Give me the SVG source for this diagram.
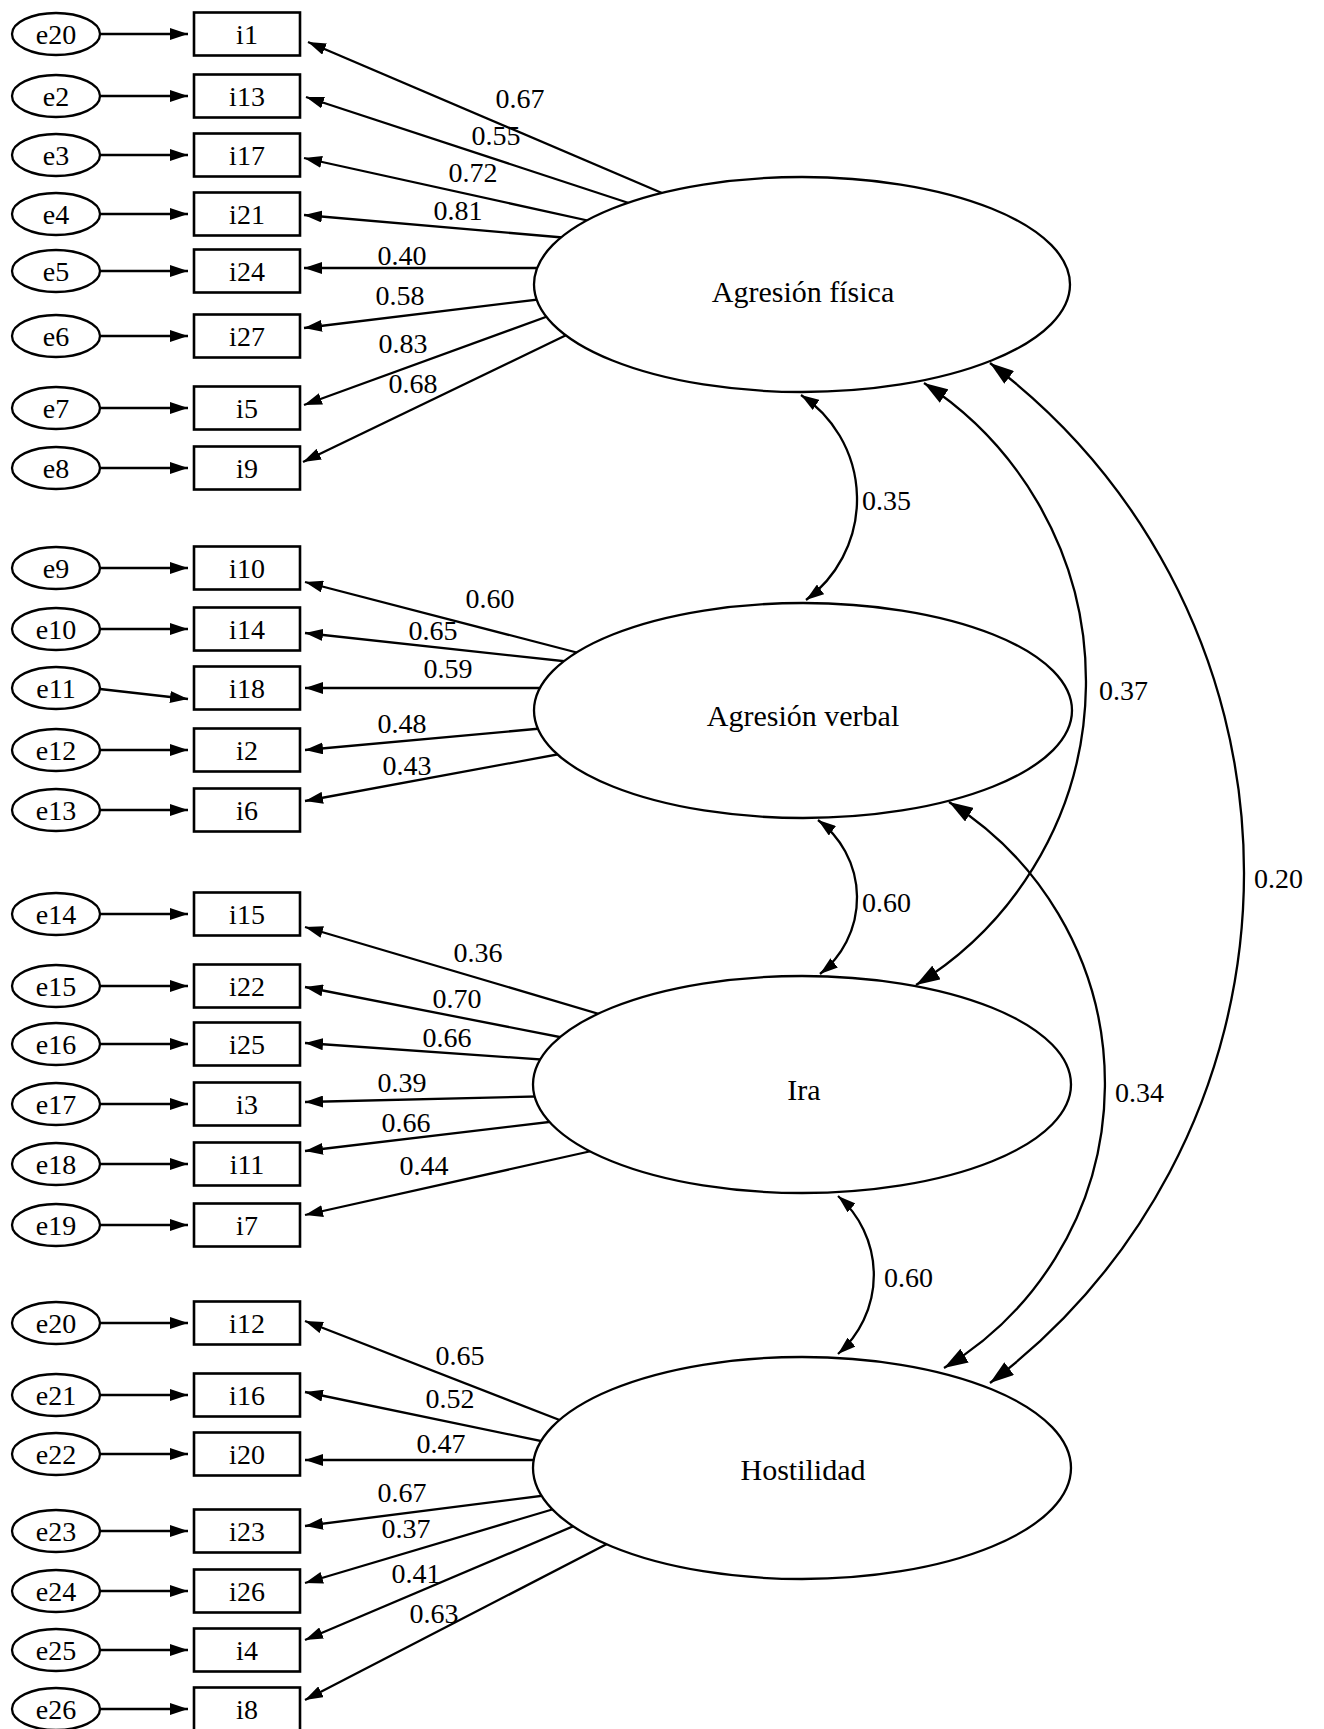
<svg xmlns="http://www.w3.org/2000/svg" width="1324" height="1729" viewBox="0 0 1324 1729">
<style>
.t{font-family:"Liberation Serif","Times New Roman",serif;font-size:28px;fill:#000}
.m{text-anchor:middle}
.big{font-size:30px}
.e{fill:#fff;stroke:#000;stroke-width:2.3}
.b{fill:#fff;stroke:#000;stroke-width:2.6}
.l{fill:none;stroke:#000;stroke-width:2.3}
.ld{marker-end:url(#ah)}
.cv{marker-start:url(#ac);marker-end:url(#ac)}
.cb{marker-start:url(#ab);marker-end:url(#ab)}
</style>
<defs>
<marker id="ah" viewBox="0 0 18 12" refX="18" refY="6" markerWidth="18" markerHeight="12" markerUnits="userSpaceOnUse" orient="auto-start-reverse"><path d="M0,0 L18,6 L0,12 z" fill="#000"/></marker>
<marker id="ac" viewBox="0 0 18 12" refX="18" refY="6" markerWidth="18" markerHeight="12" markerUnits="userSpaceOnUse" orient="auto-start-reverse"><path d="M0,0 L18,6 L0,12 z" fill="#000"/></marker>
<marker id="ab" viewBox="0 0 24 16" refX="24" refY="8" markerWidth="24" markerHeight="16" markerUnits="userSpaceOnUse" orient="auto-start-reverse"><path d="M0,0 L24,8 L0,16 z" fill="#000"/></marker>
</defs>
<rect width="1324" height="1729" fill="#fff"/>

<g id="connectors">
<g class="l ld">
<path d="M100 34H188"/><path d="M100 96H188"/><path d="M100 155H188"/><path d="M100 214H188"/>
<path d="M100 271H188"/><path d="M100 336H188"/><path d="M100 408H188"/><path d="M100 468H188"/>
<path d="M100 568H188"/><path d="M100 629H188"/><path d="M100 689L188 699"/><path d="M100 750H188"/><path d="M100 810H188"/>
<path d="M100 914H188"/><path d="M100 986H188"/><path d="M100 1044H188"/><path d="M100 1104H188"/><path d="M100 1164H188"/><path d="M100 1225H188"/>
<path d="M100 1323H188"/><path d="M100 1395H188"/><path d="M100 1454H188"/><path d="M100 1531H188"/><path d="M100 1591H188"/><path d="M100 1650H188"/><path d="M100 1709H188"/>
</g>
<g class="l ld">
<path d="M683 202L308 42"/><path d="M650 210L306 97"/><path d="M608 225L304 158"/><path d="M580 239L304 215"/>
<path d="M560 268L304 268"/><path d="M559 297L304 328"/><path d="M565 310L304 405"/><path d="M583 327L303 462"/>
<path d="M594 657L305 582"/><path d="M581 663L305 633"/><path d="M560 688L305 688"/><path d="M557 727L305 750"/><path d="M576 751L305 801"/>
<path d="M616 1019L305 927"/><path d="M575 1040L305 987"/><path d="M562 1061L305 1043"/><path d="M558 1096L305 1102"/><path d="M566 1120L305 1151"/><path d="M605 1148L305 1215"/>
<path d="M575 1426L305 1321"/><path d="M560 1445L305 1392"/><path d="M560 1460L305 1460"/><path d="M564 1493L305 1526"/><path d="M574 1503L305 1583"/><path d="M595 1517L305 1640"/><path d="M632 1531L305 1700"/>
</g>
<path class="l cv" d="M801 395A125 125 0 0 1 806 600"/>
<path class="l cv" d="M818 820A97 97 0 0 1 820 974"/>
<path class="l cv" d="M838 1196A105 105 0 0 1 838 1354"/>
<path class="l cb" d="M924 383A356 356 0 0 1 916 985"/>
<path class="l cb" d="M949 802A332 332 0 0 1 944 1368"/>
<path class="l cb" d="M990 363A639 639 0 0 1 990 1383"/>
</g>

<g id="loading-labels" class="t m">
<text x="520" y="108">0.67</text><text x="496" y="145">0.55</text><text x="473" y="182">0.72</text><text x="458" y="220">0.81</text>
<text x="402" y="265">0.40</text><text x="400" y="305">0.58</text><text x="403" y="353">0.83</text><text x="413" y="393">0.68</text>
<text x="490" y="608">0.60</text><text x="433" y="640">0.65</text><text x="448" y="678">0.59</text><text x="402" y="733">0.48</text><text x="407" y="775">0.43</text>
<text x="478" y="962">0.36</text><text x="457" y="1008">0.70</text><text x="447" y="1047">0.66</text><text x="402" y="1092">0.39</text><text x="406" y="1132">0.66</text><text x="424" y="1175">0.44</text>
<text x="460" y="1365">0.65</text><text x="450" y="1408">0.52</text><text x="441" y="1453">0.47</text><text x="402" y="1502">0.67</text><text x="406" y="1538">0.37</text><text x="416" y="1583">0.41</text><text x="434" y="1623">0.63</text>
</g>
<g id="covariance-labels" class="t">
<text x="862" y="510">0.35</text>
<text x="862" y="912">0.60</text>
<text x="884" y="1287">0.60</text>
<text x="1099" y="700">0.37</text>
<text x="1115" y="1102">0.34</text>
<text x="1254" y="888">0.20</text>
</g>

<g id="latent-agresion-fisica"><ellipse class="e" cx="802" cy="284.5" rx="268" ry="107.5"/><text class="t m big" x="803" y="302">Agresión física</text></g>
<g id="latent-agresion-verbal"><ellipse class="e" cx="803" cy="710.5" rx="269" ry="107.5"/><text class="t m big" x="803" y="726">Agresión verbal</text></g>
<g id="latent-ira"><ellipse class="e" cx="802" cy="1084.5" rx="269" ry="108.5"/><text class="t m big" x="804" y="1100">Ira</text></g>
<g id="latent-hostilidad"><ellipse class="e" cx="802" cy="1468" rx="269" ry="111"/><text class="t m big" x="803" y="1480">Hostilidad</text></g>

<g id="err-e20a"><ellipse class="e" cx="56" cy="34" rx="44" ry="21"/><text class="t m" x="56" y="44">e20</text></g>
<g id="err-e2"><ellipse class="e" cx="56" cy="96" rx="44" ry="21"/><text class="t m" x="56" y="106">e2</text></g>
<g id="err-e3"><ellipse class="e" cx="56" cy="155" rx="44" ry="21"/><text class="t m" x="56" y="165">e3</text></g>
<g id="err-e4"><ellipse class="e" cx="56" cy="214" rx="44" ry="21"/><text class="t m" x="56" y="224">e4</text></g>
<g id="err-e5"><ellipse class="e" cx="56" cy="271" rx="44" ry="21"/><text class="t m" x="56" y="281">e5</text></g>
<g id="err-e6"><ellipse class="e" cx="56" cy="336" rx="44" ry="21"/><text class="t m" x="56" y="346">e6</text></g>
<g id="err-e7"><ellipse class="e" cx="56" cy="408" rx="44" ry="21"/><text class="t m" x="56" y="418">e7</text></g>
<g id="err-e8"><ellipse class="e" cx="56" cy="468" rx="44" ry="21"/><text class="t m" x="56" y="478">e8</text></g>
<g id="err-e9"><ellipse class="e" cx="56" cy="568" rx="44" ry="21"/><text class="t m" x="56" y="578">e9</text></g>
<g id="err-e10"><ellipse class="e" cx="56" cy="629" rx="44" ry="21"/><text class="t m" x="56" y="639">e10</text></g>
<g id="err-e11"><ellipse class="e" cx="56" cy="688" rx="44" ry="21"/><text class="t m" x="56" y="698">e11</text></g>
<g id="err-e12"><ellipse class="e" cx="56" cy="750" rx="44" ry="21"/><text class="t m" x="56" y="760">e12</text></g>
<g id="err-e13"><ellipse class="e" cx="56" cy="810" rx="44" ry="21"/><text class="t m" x="56" y="820">e13</text></g>
<g id="err-e14"><ellipse class="e" cx="56" cy="914" rx="44" ry="21"/><text class="t m" x="56" y="924">e14</text></g>
<g id="err-e15"><ellipse class="e" cx="56" cy="986" rx="44" ry="21"/><text class="t m" x="56" y="996">e15</text></g>
<g id="err-e16"><ellipse class="e" cx="56" cy="1044" rx="44" ry="21"/><text class="t m" x="56" y="1054">e16</text></g>
<g id="err-e17"><ellipse class="e" cx="56" cy="1104" rx="44" ry="21"/><text class="t m" x="56" y="1114">e17</text></g>
<g id="err-e18"><ellipse class="e" cx="56" cy="1164" rx="44" ry="21"/><text class="t m" x="56" y="1174">e18</text></g>
<g id="err-e19"><ellipse class="e" cx="56" cy="1225" rx="44" ry="21"/><text class="t m" x="56" y="1235">e19</text></g>
<g id="err-e20b"><ellipse class="e" cx="56" cy="1323" rx="44" ry="21"/><text class="t m" x="56" y="1333">e20</text></g>
<g id="err-e21"><ellipse class="e" cx="56" cy="1395" rx="44" ry="21"/><text class="t m" x="56" y="1405">e21</text></g>
<g id="err-e22"><ellipse class="e" cx="56" cy="1454" rx="44" ry="21"/><text class="t m" x="56" y="1464">e22</text></g>
<g id="err-e23"><ellipse class="e" cx="56" cy="1531" rx="44" ry="21"/><text class="t m" x="56" y="1541">e23</text></g>
<g id="err-e24"><ellipse class="e" cx="56" cy="1591" rx="44" ry="21"/><text class="t m" x="56" y="1601">e24</text></g>
<g id="err-e25"><ellipse class="e" cx="56" cy="1650" rx="44" ry="21"/><text class="t m" x="56" y="1660">e25</text></g>
<g id="err-e26"><ellipse class="e" cx="56" cy="1709" rx="44" ry="21"/><text class="t m" x="56" y="1719">e26</text></g>

<g id="item-i1"><rect class="b" x="194" y="12.5" width="106" height="43"/><text class="t m" x="247" y="44">i1</text></g>
<g id="item-i13"><rect class="b" x="194" y="74.5" width="106" height="43"/><text class="t m" x="247" y="106">i13</text></g>
<g id="item-i17"><rect class="b" x="194" y="133.5" width="106" height="43"/><text class="t m" x="247" y="165">i17</text></g>
<g id="item-i21"><rect class="b" x="194" y="192.5" width="106" height="43"/><text class="t m" x="247" y="224">i21</text></g>
<g id="item-i24"><rect class="b" x="194" y="249.5" width="106" height="43"/><text class="t m" x="247" y="281">i24</text></g>
<g id="item-i27"><rect class="b" x="194" y="314.5" width="106" height="43"/><text class="t m" x="247" y="346">i27</text></g>
<g id="item-i5"><rect class="b" x="194" y="386.5" width="106" height="43"/><text class="t m" x="247" y="418">i5</text></g>
<g id="item-i9"><rect class="b" x="194" y="446.5" width="106" height="43"/><text class="t m" x="247" y="478">i9</text></g>
<g id="item-i10"><rect class="b" x="194" y="546.5" width="106" height="43"/><text class="t m" x="247" y="578">i10</text></g>
<g id="item-i14"><rect class="b" x="194" y="607.5" width="106" height="43"/><text class="t m" x="247" y="639">i14</text></g>
<g id="item-i18"><rect class="b" x="194" y="666.5" width="106" height="43"/><text class="t m" x="247" y="698">i18</text></g>
<g id="item-i2"><rect class="b" x="194" y="728.5" width="106" height="43"/><text class="t m" x="247" y="760">i2</text></g>
<g id="item-i6"><rect class="b" x="194" y="788.5" width="106" height="43"/><text class="t m" x="247" y="820">i6</text></g>
<g id="item-i15"><rect class="b" x="194" y="892.5" width="106" height="43"/><text class="t m" x="247" y="924">i15</text></g>
<g id="item-i22"><rect class="b" x="194" y="964.5" width="106" height="43"/><text class="t m" x="247" y="996">i22</text></g>
<g id="item-i25"><rect class="b" x="194" y="1022.5" width="106" height="43"/><text class="t m" x="247" y="1054">i25</text></g>
<g id="item-i3"><rect class="b" x="194" y="1082.5" width="106" height="43"/><text class="t m" x="247" y="1114">i3</text></g>
<g id="item-i11"><rect class="b" x="194" y="1142.5" width="106" height="43"/><text class="t m" x="247" y="1174">i11</text></g>
<g id="item-i7"><rect class="b" x="194" y="1203.5" width="106" height="43"/><text class="t m" x="247" y="1235">i7</text></g>
<g id="item-i12"><rect class="b" x="194" y="1301.5" width="106" height="43"/><text class="t m" x="247" y="1333">i12</text></g>
<g id="item-i16"><rect class="b" x="194" y="1373.5" width="106" height="43"/><text class="t m" x="247" y="1405">i16</text></g>
<g id="item-i20"><rect class="b" x="194" y="1432.5" width="106" height="43"/><text class="t m" x="247" y="1464">i20</text></g>
<g id="item-i23"><rect class="b" x="194" y="1509.5" width="106" height="43"/><text class="t m" x="247" y="1541">i23</text></g>
<g id="item-i26"><rect class="b" x="194" y="1569.5" width="106" height="43"/><text class="t m" x="247" y="1601">i26</text></g>
<g id="item-i4"><rect class="b" x="194" y="1628.5" width="106" height="43"/><text class="t m" x="247" y="1660">i4</text></g>
<g id="item-i8"><rect class="b" x="194" y="1687.5" width="106" height="43"/><text class="t m" x="247" y="1719">i8</text></g>
</svg>
